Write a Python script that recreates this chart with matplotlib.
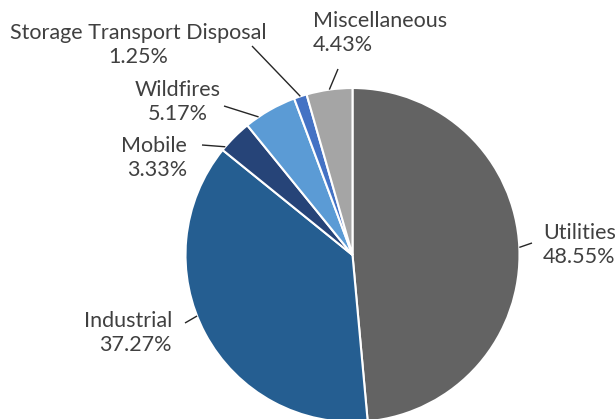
import numpy as np
import matplotlib
matplotlib.use("Agg")
import matplotlib.pyplot as plt

# Share of emissions by source
categories = ["Utilities", "Industrial", "Mobile", "Wildfires",
              "Storage Transport Disposal", "Miscellaneous"]
shares = [48.55, 37.27, 3.33, 5.17, 1.25, 4.43]
colors = ["#636363", "#255E91", "#264478", "#5B9BD5", "#4472C4", "#A5A5A5"]

W, H = 615, 419
fig = plt.figure(figsize=(W / 100, H / 100), dpi=100)
ax = fig.add_axes([0, 0, 1, 1])

cx, cy, r = 352.5, H - 255, 167
wedges, _ = ax.pie(shares, colors=colors, startangle=90, counterclock=False,
                   center=(cx, cy), radius=r, frame=True,
                   wedgeprops=dict(edgecolor="white", linewidth=1.5))
ax.set_xlim(0, W)
ax.set_ylim(0, H)
ax.set_aspect("equal")
ax.axis("off")

# label placement: text anchor, alignment, leader outer end,
# and where along the wedge (clockwise fraction) the leader attaches
label_style = {
    "Utilities": dict(xy=(543, H - 245), ha="left", lead=(532, H - 243), frac=0.5),
    "Industrial": dict(xy=(172, H - 333), ha="right", lead=(185, H - 323), frac=0.55),
    "Mobile": dict(xy=(187, H - 158), ha="right", lead=(202, H - 145), frac=0.12),
    "Wildfires": dict(xy=(178, H - 102), ha="center", lead=(224, H - 106), frac=0.26),
    "Storage Transport Disposal": dict(xy=(138, H - 45), ha="center", lead=(252, H - 46), frac=0.5),
    "Miscellaneous": dict(xy=(313, H - 33), ha="left", lead=(338, H - 69), frac=0.5),
}

font = dict(family=["Lato", "DejaVu Sans"], size=15.5, color="#404040")

for w, name, val in zip(wedges, categories, shares):
    st = label_style[name]
    ang = np.deg2rad(w.theta2 - st["frac"] * (w.theta2 - w.theta1))
    px, py = cx + r * np.cos(ang), cy + r * np.sin(ang)
    ax.plot([st["lead"][0], px], [st["lead"][1], py], color="#262626", lw=1.0,
            solid_capstyle="butt")
    ax.text(st["xy"][0], st["xy"][1], f"{name}\n{val:.2f}%", ha=st["ha"],
            va="center", multialignment=st["ha"], linespacing=1.2, **font)

fig.savefig("out.png", dpi=100, facecolor="white")
